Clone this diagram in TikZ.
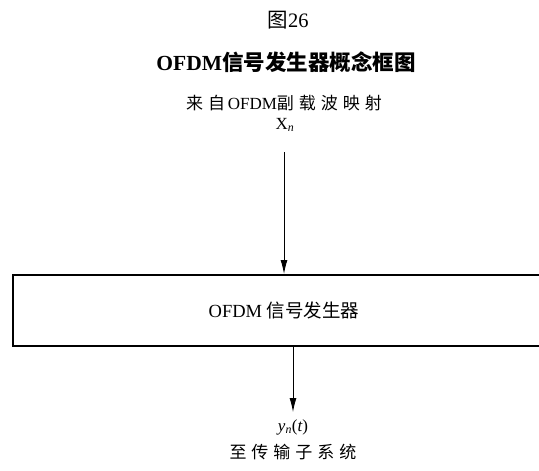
\documentclass[tikz,border=0pt]{standalone}
\usepackage{fontspec}
\setmainfont{Liberation Serif}
\newfontfamily\cjk{Noto Sans CJK SC}
\usetikzlibrary{arrows.meta}
\newcommand\gp{\hspace{5pt}}
\tikzset{
  txt/.style={inner sep=1pt, font=\fontsize{17}{20}\selectfont},
  flow/.style={-{Latex[length=14pt,width=7pt]}, line width=1pt},
  genbox/.style={draw, line width=2pt, minimum width=542pt, minimum height=71pt,
    font=\fontsize{18.5}{22}\selectfont}
}
\begin{document}
\begin{tikzpicture}[x=1pt,y=-1pt]
    \useasboundingbox (0,0) rectangle (539,471);
    \clip (0,0) rectangle (539,471);
    % headings
    \node[txt, font=\fontsize{20.5}{24}\selectfont] (fig) at (288,20) {{\cjk 图}26};
    \node[txt, font=\fontsize{21.5}{25}\selectfont\bfseries] (title) at (286,62)
        {OFDM{\cjk\bfseries 信号发生器概念框图}};
    % input
    \node[txt] (from) at (284,103) {{\cjk 来\gp 自}\,OFDM{\cjk 副\gp 载\gp 波\gp 映\gp 射}};
    \node[txt] (src) at (285,125) {X\textsubscript{\itshape n}};
    % generator
    \node[genbox] (gen) at (284,310.5) {OFDM {\cjk 信号发生器}};
    % output
    \node[txt] (out) at (293,427) {\itshape y\textsubscript{n}\upshape(\itshape t\upshape)};
    \node[txt] (dest) at (293,452) {\cjk 至\gp 传\gp 输\gp 子\gp 系\gp 统};
    \draw[flow, shorten <=19pt] (src.south -| gen) -- (gen);
    \draw[flow, shorten >=6pt] (out.north |- gen.south) -- (out);
\end{tikzpicture}
\end{document}
